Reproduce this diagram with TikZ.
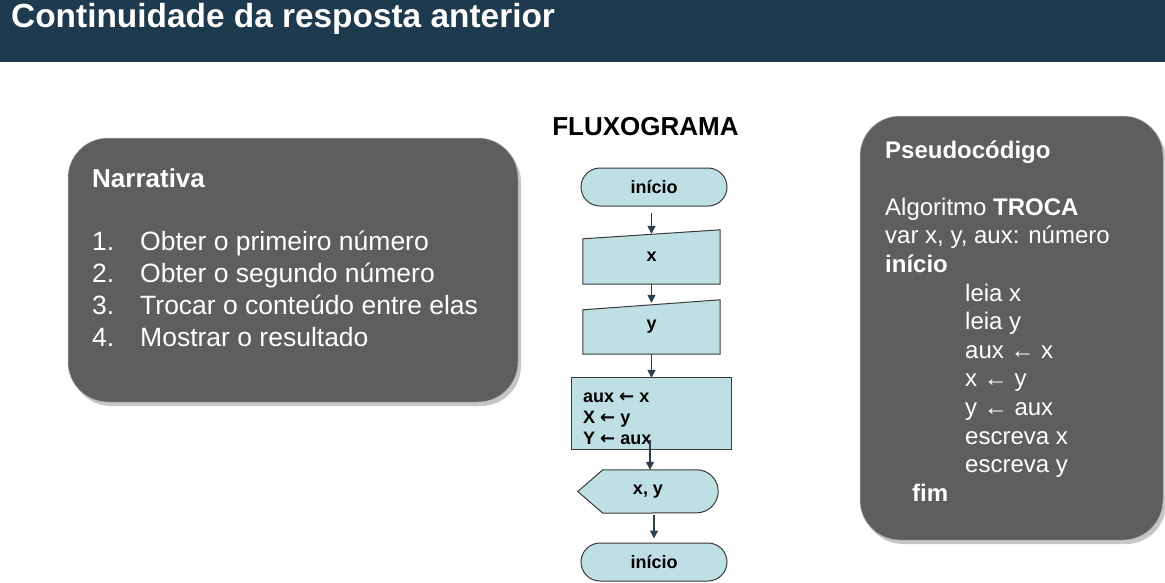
\documentclass[tikz,border=0pt]{standalone}
\usepackage{fontspec}
\setmainfont{Liberation Sans}
\newfontfamily\arrowfont{DejaVu Sans}
\usetikzlibrary{arrows.meta,shadows,backgrounds,calc}
\definecolor{barblue}{HTML}{1E3A4F}
\definecolor{boxgray}{HTML}{5E5E5E}
\definecolor{fcblue}{HTML}{BEE0E4}
\definecolor{fcline}{HTML}{3A3A3A}
\definecolor{arrcol}{HTML}{2A3F52}
\newcommand{\fatarrow}{{\arrowfont\bfseries ←}}
\begin{document}
\begin{tikzpicture}[x=1pt,y=1pt,
  panel/.style={fill=boxgray,draw=gray!60,line width=0.5pt,rounded corners=40pt,
    drop shadow={opacity=0.45,shadow xshift=3pt,shadow yshift=-4pt}},
  fcshape/.style={fill=fcblue,draw=fcline,line width=1pt},
  fctext/.style={font=\fontsize{18}{21}\selectfont\bfseries,text=black,inner sep=0pt},
  term/.style={fcshape,rounded corners=19pt,minimum width=146pt,minimum height=38pt,fctext},
  frame/.style={minimum width=137pt,minimum height=54pt,fctext},
  arr/.style={draw=arrcol,line width=1.4pt,-{Triangle[width=8pt,length=8pt]}},
  wtext/.style={text=white,inner sep=0pt}
]
\useasboundingbox (0,0) rectangle (1165,-582);
% title bar
\fill[barblue] (0,0) rectangle (1165,-62);
\node[wtext,anchor=base west,font=\fontsize{33.4}{38}\selectfont\bfseries] (title) at (11,-27) {Continuidade da resposta anterior};

% left panel
\draw[panel] (68,-138) rectangle (518,-402);
\node[wtext,anchor=base west,font=\fontsize{26}{31}\selectfont\bfseries] (narr) at (92,-187) {Narrativa};
\node[wtext,anchor=base west,font=\fontsize{26.5}{32}\selectfont] (list) at (92,-250)
  {\begin{tabular}[t]{@{}p{48pt}@{}l@{}}
   1. & Obter o primeiro número\\
   2. & Obter o segundo número\\
   3. & Trocar o conteúdo entre elas\\
   4. & Mostrar o resultado
   \end{tabular}};

% right panel
\draw[panel] (860,-116) rectangle (1163,-540);
\node[wtext,anchor=base west,font=\fontsize{24}{28.6}\selectfont] (pseudo) at (885,-158)
  {\begin{tabular}[t]{@{}l@{}}
   \textbf{Pseudocódigo}\\
   \\
   Algoritmo \textbf{TROCA}\\
   var x, y, aux: número\\
   \textbf{início}\\
   \hspace*{80pt}leia x\\
   \hspace*{80pt}leia y\\
   \hspace*{80pt}aux ← x\\
   \hspace*{80pt}x ← y\\
   \hspace*{80pt}y ← aux\\
   \hspace*{80pt}escreva x\\
   \hspace*{80pt}escreva y\\
   \hspace*{27pt}\textbf{fim}
   \end{tabular}};

% flowchart heading
\node[anchor=base,font=\fontsize{26}{30}\selectfont\bfseries,inner sep=0pt] (fluxo) at (645.5,-135) {FLUXOGRAMA};

% flowchart nodes
\node[term] (t1) at (654,-187) {início};
\node[frame] (inx) at (651.5,-257) {x};
\node[frame] (iny) at (651.5,-327) {y};
\node[minimum width=159pt,minimum height=71pt] (proc) at (651.5,-413.5) {};
\node[fctext,anchor=base west] (proctext) at (583,-402)
  {\begin{tabular}[t]{@{}l@{}}aux \fatarrow{} x\\X \fatarrow{} y\\Y \fatarrow{} aux\end{tabular}};
\node[minimum width=140pt,minimum height=43pt,fctext] (disp) at (648,-491.5) {x, y};
\node[term] (t2) at (654,-562) {início};

\begin{scope}[on background layer]
  \draw[fcshape] (inx.south west) -- (inx.south east) -- (inx.north east)
     -- ([yshift=-9pt]inx.north west) -- cycle;
  \draw[fcshape] (iny.south west) -- (iny.south east) -- (iny.north east)
     -- ([yshift=-10pt]iny.north west) -- cycle;
  \draw[fcshape] (proc.south west) rectangle (proc.north east);
  \draw[fcshape] (disp.west) -- ([xshift=25pt]disp.north west)
     -- ([xshift=-21.5pt]disp.north east)
     arc[start angle=90,end angle=-90,radius=21.5pt]
     -- ([xshift=25pt]disp.south west) -- cycle;
\end{scope}

% connectors
\draw[arr] ([yshift=-6pt]t1.south -| inx.north) -- ([yshift=-4pt]inx.north);
\draw[arr] (inx.south) -- ([yshift=-3pt]iny.north);
\draw[arr] (iny.south) -- (proc.north);
\draw[arr] ([xshift=2pt,yshift=9pt]proc.south -| disp.north) -- ([xshift=2pt]disp.north);
\draw[arr] ([yshift=-2pt]disp.south -| t2.north) -- ([yshift=4pt]t2.north);
\end{tikzpicture}
\end{document}
